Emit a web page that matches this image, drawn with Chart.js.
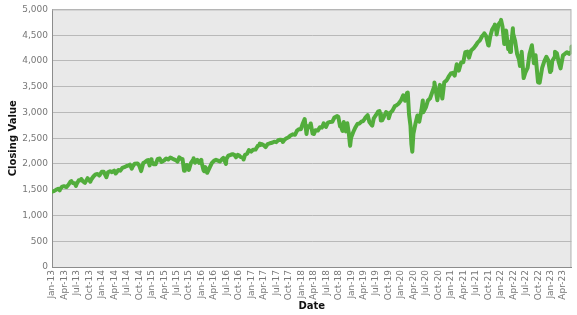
<!DOCTYPE html>
<html>
<head>
<meta charset="utf-8">
<script src="https://cdn.jsdelivr.net/npm/chart.js@4/dist/chart.umd.min.js"></script>
<style>
html,body{margin:0;padding:0;background:#fff;}
#wrap{width:577px;height:315px;}
</style>
</head>
<body>
<div id="wrap"><canvas id="c" width="577" height="315"></canvas></div>
<script>
const dates = [
"2013-01-02","2013-01-15","2013-01-31","2013-02-15","2013-02-25","2013-02-28","2013-03-15","2013-03-28","2013-04-15","2013-04-30","2013-05-15","2013-05-21","2013-05-31","2013-06-14","2013-06-24","2013-06-28","2013-07-15","2013-07-31","2013-08-02","2013-08-15","2013-08-30","2013-09-18","2013-09-30","2013-10-08","2013-10-15","2013-10-31","2013-11-15","2013-11-29","2013-12-13","2013-12-31",
"2014-01-15","2014-02-03","2014-02-14","2014-02-28","2014-03-14","2014-03-31","2014-04-11","2014-04-30","2014-05-15","2014-05-30","2014-06-13","2014-06-30","2014-07-15","2014-07-24","2014-08-07","2014-08-15","2014-08-29","2014-09-18","2014-09-30","2014-10-15","2014-10-31","2014-11-14","2014-11-28","2014-12-05","2014-12-16","2014-12-29","2014-12-31",
"2015-01-15","2015-01-30","2015-02-13","2015-02-27","2015-03-11","2015-03-31","2015-04-15","2015-04-30","2015-05-15","2015-05-29","2015-06-15","2015-06-30","2015-07-08","2015-07-20","2015-07-31","2015-08-14","2015-08-25","2015-08-31","2015-09-15","2015-09-29","2015-10-15","2015-10-30","2015-11-03","2015-11-13","2015-11-30","2015-12-14","2015-12-29","2015-12-31",
"2016-01-15","2016-01-20","2016-01-29","2016-02-11","2016-02-29","2016-03-15","2016-03-31","2016-04-15","2016-04-29","2016-05-13","2016-05-31","2016-06-08","2016-06-27","2016-06-30","2016-07-15","2016-07-29","2016-08-15","2016-08-31","2016-09-09","2016-09-22","2016-09-30","2016-10-14","2016-10-31","2016-11-04","2016-11-15","2016-11-30","2016-12-13","2016-12-30",
"2017-01-13","2017-01-31","2017-02-15","2017-02-28","2017-03-01","2017-03-15","2017-03-31","2017-04-13","2017-04-28","2017-05-15","2017-05-31","2017-06-15","2017-06-30","2017-07-14","2017-07-31","2017-08-15","2017-08-18","2017-08-31","2017-09-15","2017-09-29","2017-10-13","2017-10-31","2017-11-15","2017-11-30","2017-12-15","2017-12-29",
"2018-01-12","2018-01-26","2018-02-08","2018-02-15","2018-02-28","2018-03-09","2018-03-23","2018-04-02","2018-04-13","2018-04-30","2018-05-15","2018-05-31","2018-06-12","2018-06-29","2018-07-13","2018-07-31","2018-08-15","2018-08-31","2018-09-20","2018-09-28","2018-10-11","2018-10-15","2018-10-29","2018-10-31","2018-11-07","2018-11-23","2018-11-30","2018-12-03","2018-12-14","2018-12-24","2018-12-31",
"2019-01-15","2019-01-31","2019-02-15","2019-02-28","2019-03-15","2019-03-29","2019-04-15","2019-04-30","2019-05-13","2019-05-31","2019-06-03","2019-06-14","2019-06-28","2019-07-15","2019-07-26","2019-07-31","2019-08-05","2019-08-15","2019-08-30","2019-09-13","2019-09-30","2019-10-02","2019-10-15","2019-10-31","2019-11-15","2019-11-29","2019-12-13","2019-12-31",
"2020-01-17","2020-01-31","2020-02-14","2020-02-19","2020-02-28","2020-03-09","2020-03-16","2020-03-23","2020-03-31","2020-04-15","2020-04-29","2020-05-13","2020-05-29","2020-06-08","2020-06-11","2020-06-30","2020-07-15","2020-07-31","2020-08-14","2020-08-31","2020-09-02","2020-09-23","2020-09-30","2020-10-12","2020-10-30","2020-11-13","2020-11-30","2020-12-15","2020-12-31",
"2021-01-15","2021-01-29","2021-02-12","2021-02-26","2021-03-15","2021-03-31","2021-04-15","2021-04-30","2021-05-12","2021-05-28","2021-06-15","2021-06-30","2021-07-15","2021-07-30","2021-08-16","2021-08-31","2021-09-02","2021-09-15","2021-09-30","2021-10-04","2021-10-15","2021-10-29","2021-11-15","2021-11-18","2021-11-30","2021-12-01","2021-12-15","2021-12-31",
"2022-01-03","2022-01-14","2022-01-27","2022-01-31","2022-02-09","2022-02-23","2022-02-28","2022-03-08","2022-03-15","2022-03-29","2022-03-31","2022-04-14","2022-04-29","2022-05-13","2022-05-20","2022-05-31","2022-06-02","2022-06-16","2022-06-30","2022-07-15","2022-07-29","2022-08-16","2022-08-31","2022-09-12","2022-09-30","2022-10-12","2022-10-31","2022-11-15","2022-11-30","2022-12-13","2022-12-28","2022-12-30",
"2023-01-05","2023-01-13","2023-01-31","2023-02-02","2023-02-15","2023-02-28","2023-03-13","2023-03-31","2023-04-14","2023-04-28","2023-05-15","2023-05-31","2023-06-02"
];
const closes = [
1462,1472,1498,1519,1488,1515,1561,1569,1552,1597,1658,1669,1631,1626,1573,1606,1682,1686,1709,1661,1633,1725,1682,1655,1698,1757,1798,1806,1775,1848,
1848,1742,1838,1859,1841,1872,1815,1884,1870,1924,1937,1960,1973,1988,1910,1955,2003,2011,1972,1862,2018,2039,2068,2075,1973,2091,2059,
1993,1995,2097,2105,2040,2068,2107,2086,2123,2107,2085,2063,2047,2128,2104,2092,1868,1972,1979,1884,2023,2079,2109,2023,2080,2021,2078,2044,
1880,1859,1940,1829,1932,2016,2060,2081,2065,2047,2097,2119,2001,2099,2162,2174,2190,2171,2128,2177,2168,2133,2126,2085,2180,2199,2271,2239,
2275,2279,2349,2364,2396,2385,2363,2329,2384,2402,2412,2433,2423,2459,2470,2464,2425,2472,2500,2519,2553,2575,2565,2648,2676,2674,
2786,2873,2581,2731,2714,2786,2588,2582,2656,2648,2711,2705,2787,2718,2801,2816,2818,2902,2930,2914,2728,2750,2641,2712,2814,2633,2760,2790,2600,2351,2507,
2610,2704,2775,2784,2822,2834,2905,2946,2812,2752,2744,2887,2942,3014,3026,2980,2845,2848,2926,3007,2977,2888,2996,3038,3120,3141,3169,3231,
3330,3226,3380,3386,2954,2747,2386,2237,2585,2783,2940,2820,3044,3232,3002,3100,3227,3271,3373,3500,3580,3237,3363,3535,3270,3585,3622,3694,3756,
3768,3714,3934,3811,3969,3973,4170,4181,4063,4204,4246,4298,4360,4395,4479,4523,4537,4481,4308,4300,4471,4605,4682,4705,4567,4513,4709,4766,
4796,4663,4326,4516,4587,4226,4374,4171,4262,4632,4530,4393,4132,4023,3901,4132,4177,3667,3785,3863,4130,4305,3955,4110,3586,3577,3872,3992,4080,4019,3783,3840,
3808,3999,4077,4180,4148,3970,3855,4109,4138,4169,4136,4180,4282
];
const tickLabels = ["Jan-13","Apr-13","Jul-13","Oct-13","Jan-14","Apr-14","Jul-14","Oct-14","Jan-15","Apr-15","Jul-15","Oct-15","Jan-16","Apr-16","Jul-16","Oct-16","Jan-17","Apr-17","Jul-17","Oct-17","Jan-18","Apr-18","Jul-18","Oct-18","Jan-19","Apr-19","Jul-19","Oct-19","Jan-20","Apr-20","Jul-20","Oct-20","Jan-21","Apr-21","Jul-21","Oct-21","Jan-22","Apr-22","Jul-22","Oct-22","Jan-23","Apr-23"];
const yTicks = [0,500,1000,1500,2000,2500,3000,3500,4000,4500,5000];

function monthPos(s){
  const [y,m,d] = s.split('-').map(Number);
  const dim = new Date(y, m, 0).getDate();
  return (y-2013)*12 + (m-1) + (d-1)/dim;
}
const points = dates.map((d,i)=>({x: monthPos(d), y: closes[i]}));

const bgPlugin = {
  id:'bg',
  beforeDraw(chart){
    const {ctx, chartArea:a} = chart;
    ctx.save();
    ctx.fillStyle = '#e9e9e9';
    ctx.fillRect(a.left, a.top, a.right-a.left, a.bottom-a.top);
    ctx.restore();
  },
  afterDatasetsDraw(chart){
    const {ctx, chartArea:a} = chart;
    ctx.save();
    ctx.strokeStyle = '#b4b4b4';
    ctx.lineWidth = 1;
    ctx.beginPath();
    ctx.moveTo(a.left, a.top+0.5); ctx.lineTo(a.right-0.5, a.top+0.5); ctx.lineTo(a.right-0.5, a.bottom);
    ctx.stroke();
    ctx.restore();
  }
};

new Chart(document.getElementById('c'), {
  type:'line',
  data:{ datasets:[{ data: points, borderColor:'#52ad3c', borderWidth:4, pointRadius:0, tension:0, fill:false, borderJoinStyle:'round', borderCapStyle:'round' }]},
  options:{
    responsive:false, animation:false,
    layout:{ padding:{ top:5, right:5, left:0, bottom:0 } },
    plugins:{ legend:{display:false}, tooltip:{enabled:false} },
    scales:{
      x:{
        type:'linear', min:0, max:125,
        afterBuildTicks(s){ s.ticks = tickLabels.map((_,i)=>({value:i*3})); },
        afterFit(s){ s.height = 48; },
        grid:{ display:false, drawTicks:false },
        border:{ display:true, color:'#8c8c8c', width:1 },
        ticks:{ autoSkip:false, minRotation:90, maxRotation:90, padding:3, color:'#777777',
          font:{ family:'DejaVu Sans', size:9 },
          callback(v){ const i = Math.round(v/3); return tickLabels[i] || ''; } },
        title:{ display:true, text:'Date', color:'#111', font:{ family:'DejaVu Sans', size:10, weight:'bold' }, padding:{top:0,bottom:3} }
      },
      y:{
        min:0, max:5000,
        afterBuildTicks(s){ s.ticks = yTicks.map(v=>({value:v})); },
        afterFit(s){ s.width = 52; },
        grid:{ color:'#b9b9b9', lineWidth:1, drawTicks:false },
        border:{ display:true, color:'#8c8c8c', width:1 },
        ticks:{ padding:4, color:'#777777', font:{ family:'DejaVu Sans', size:9 },
          callback(v){ return v.toLocaleString('en-US'); } },
        title:{ display:true, text:'Closing Value', color:'#111', font:{ family:'DejaVu Sans', size:10, weight:'bold' }, padding:{top:7,bottom:0} }
      }
    }
  },
  plugins:[bgPlugin]
});
</script>
</body>
</html>
